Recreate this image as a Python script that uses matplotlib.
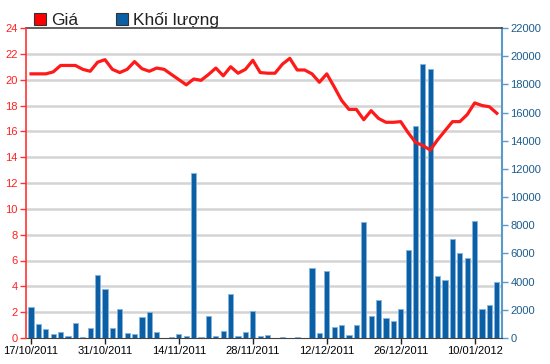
import numpy as np
import matplotlib
matplotlib.use('Agg')
import matplotlib.pyplot as plt
from matplotlib.patches import Rectangle

# --- DADOS ---
ngay_labels = ['17/10/2011', '31/10/2011', '14/11/2011', '28/11/2011',
               '12/12/2011', '26/12/2011', '10/01/2012']

gia = [20.45, 20.45, 20.45, 20.6, 21.1, 21.1, 21.1, 20.8, 20.65, 21.35,
       21.55, 20.8, 20.55, 20.8, 21.4, 20.85, 20.65, 20.9, 20.8, 20.4,
       20.0, 19.6, 20.05, 19.95, 20.4, 20.9, 20.3, 21.0, 20.5, 20.8,
       21.5, 20.55, 20.5, 20.5, 21.2, 21.65, 20.75, 20.75, 20.45, 19.8,
       20.45, 19.45, 18.4, 17.7, 17.7, 16.9, 17.6, 17.0, 16.7, 16.7,
       16.75, 15.9, 15.15, 14.9, 14.55, 15.35, 16.05, 16.75, 16.75, 17.3,
       18.2, 18.0, 17.9, 17.4]

khoi_luong = [2200, 970, 620, 260, 430, 170, 1040, 70, 690, 4500,
              3500, 690, 2030, 330, 260, 1490, 1820, 400, 0, 50,
              310, 140, 11700, 50, 1560, 170, 500, 3150, 170, 430,
              1920, 170, 240, 0, 50, 0, 50, 0, 5000, 330,
              4750, 760, 950, 240, 950, 8200, 1560, 2700, 1440, 1210,
              2080, 6220, 15020, 19430, 19120, 4380, 4090, 7000, 6060, 5700,
              8330, 2080, 2340, 3950]

x = np.arange(len(gia))

# --- VISUAL ---
plt.rcParams['font.family'] = ['Liberation Sans', 'DejaVu Sans']

fig = plt.figure(figsize=(5.5, 3.64), dpi=100)
ax = fig.add_axes([26 / 550, 26 / 364, 476 / 550, 310 / 364])
ax2 = ax.twinx()  # eixo do preço (esquerda), criado antes para não bagunçar os ticks

# barras de volume (eixo direito)
ax.bar(x, khoi_luong, width=0.7, color='#0a5fa5', edgecolor='#86b4de',
       linewidth=0.6, zorder=2)
ax.set_xlim(-0.68, 63.7)
ax.set_ylim(0, 22000)
ax.yaxis.tick_right()
ax.set_yticks(np.arange(0, 22001, 2000))
ax.tick_params(axis='y', colors='#5a9ac8', labelcolor='#1c5c8c',
               labelsize=8, length=4, width=1, pad=2)
# linhas de grade alinhadas ao eixo de preço (a cada 2)
ax.set_yticks(np.linspace(0, 22000, 13), minor=True)
ax.tick_params(axis='y', which='minor', length=0)
ax.grid(axis='y', which='minor', color='#d4d4d4', linewidth=1.8, zorder=0)
ax.set_axisbelow(True)

ax.set_xticks(np.arange(0, 61, 10))
ax.set_xticklabels(ngay_labels)
ax.tick_params(axis='x', labelsize=8, length=4, width=1, colors='#222222',
               labelcolor='black', pad=2)

ax.spines['left'].set_visible(False)
ax.spines['right'].set_color('#5a9ac8')
ax.spines['right'].set_linewidth(1.5)
ax.spines['top'].set_color('#444444')
ax.spines['top'].set_linewidth(1.2)
ax.spines['bottom'].set_color('#444444')

# linha de preço (eixo esquerdo)
ax2.plot(x, gia, color='#ff1a1a', linewidth=2.3, zorder=3)
ax2.set_ylim(0, 24)
ax2.yaxis.tick_left()
ax2.set_yticks(np.arange(0, 25, 2))
ax2.tick_params(axis='y', colors='#ff3333', labelcolor='#ff2020',
                labelsize=8, length=4, width=1, pad=2)
ax2.spines['left'].set_color('#ff3333')
ax2.spines['left'].set_linewidth(1.2)
for s in ['right', 'top', 'bottom']:
    ax2.spines[s].set_visible(False)

# legenda manual
fam = ['Liberation Sans Narrow', 'Liberation Sans', 'DejaVu Sans']
fig.patches.append(Rectangle((34 / 550, (364 - 25) / 364), 12 / 550, 12 / 364,
                             transform=fig.transFigure, facecolor='#ff0000',
                             edgecolor='#333333', linewidth=0.8))
fig.text(51 / 550, (364 - 25) / 364, 'Giá', fontsize=12.5, color='#222222',
         va='baseline', family=fam)
fig.patches.append(Rectangle((116 / 550, (364 - 25) / 364), 12 / 550, 12 / 364,
                             transform=fig.transFigure, facecolor='#0a5fa5',
                             edgecolor='#333333', linewidth=0.8))
fig.text(133 / 550, (364 - 25) / 364, 'Khối lượng', fontsize=12.5, color='#222222',
         va='baseline', family=fam)

fig.savefig('out.png', dpi=100)
